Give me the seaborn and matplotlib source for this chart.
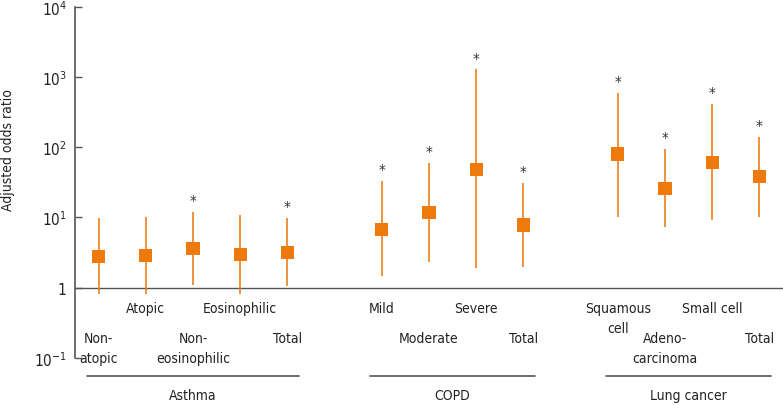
import numpy as np
import pandas as pd
import matplotlib
matplotlib.use('Agg')
import matplotlib.pyplot as plt
import seaborn as sns

# Data
groups = ['Asthma'] * 5 + ['COPD'] * 4 + ['Lung cancer'] * 4
labels = ['Non-\natopic', 'Atopic', 'Non-\neosinophilic', 'Eosinophilic', 'Total',
          'Mild', 'Moderate', 'Severe', 'Total',
          'Squamous\ncell', 'Adeno-\ncarcinoma', 'Small cell', 'Total']
slots = [0, 1, 2, 3, 4, 6, 7, 8, 9, 11, 12, 13, 14]
odds = [2.75, 2.85, 3.65, 3.0, 3.2, 6.8, 11.8, 48, 7.8, 80, 26, 60, 38]
lower = [0.8, 0.82, 1.1, 0.82, 1.07, 1.48, 2.33, 1.9, 2.0, 10, 7.3, 9.1, 10]
upper = [9.8, 10, 11.8, 10.7, 9.7, 33.5, 60, 1280, 31, 600, 95, 410, 140]
signif = [False, False, True, False, True, True, True, True, True, True, True, True, True]
label_row = [2, 1, 2, 1, 2, 1, 2, 1, 2, 1, 2, 1, 2]
group_names = ['Asthma', 'COPD', 'Lung cancer']

df = pd.DataFrame({'group': groups, 'label': labels, 'x': slots, 'odds': odds,
                   'lower': lower, 'upper': upper, 'sig': signif, 'row': label_row})

sns.set_style('white')
# condensed DejaVu is the closest to the narrow face of the original
plt.rcParams['font.family'] = ['DejaVu Sans']
plt.rcParams['font.stretch'] = 'condensed'
plt.rcParams['mathtext.fontset'] = 'custom'
plt.rcParams['mathtext.rm'] = 'DejaVu Sans:stretch=condensed'

orange = '#EF7A0C'
grey = '#555555'
text_col = '#222222'

fig = plt.figure(figsize=(7.83, 4.06), dpi=100)
ax = fig.add_axes([0.0958, 0.116, 0.9042, 0.865])

# confidence intervals
ax.vlines(df['x'], df['lower'], df['upper'], color=orange, lw=1.15, zorder=2)
sns.scatterplot(data=df, x='x', y='odds', marker='s', s=88, color=orange,
                edgecolor='none', ax=ax, zorder=3, legend=False)

# significance stars
for _, r in df[df['sig']].iterrows():
    ax.text(r['x'], r['upper'] * 1.1, '*', ha='center', va='bottom',
            fontsize=11, color='#333333')

ax.set_yscale('log')
ax.set_ylim(0.1, 1e4)
ax.set_xlim(-0.5, 14.5)
ax.axhline(1, color=grey, lw=1.0, zorder=1)

ax.set_yticks([0.1, 1, 10, 100, 1000, 10000])
ax.set_yticklabels(['$10^{-1}$', '1', '$10^{1}$', '$10^{2}$', '$10^{3}$', '$10^{4}$'])
ax.minorticks_off()
ax.tick_params(axis='y', direction='in', length=5, width=1, color=grey,
               labelsize=11, labelcolor=text_col, pad=6, left=True)
ax.set_xticks([])
ax.set_xlabel('')
ax.set_ylabel('Adjusted odds ratio', fontsize=10, color=text_col, va='center')
ax.yaxis.set_label_coords(-0.094, 0.596)

for s in ['top', 'right', 'bottom']:
    ax.spines[s].set_visible(False)
ax.spines['left'].set_color(grey)
ax.spines['left'].set_linewidth(1.2)

# category labels under the reference line
trans = ax.get_xaxis_transform()
for _, r in df.iterrows():
    ytop = 0.162 if r['row'] == 1 else 0.078
    ax.text(r['x'], ytop, r['label'], transform=trans, ha='center', va='top',
            fontsize=10, color=text_col, linespacing=1.55, clip_on=False)

# group brackets
for g in group_names:
    xs = df.loc[df['group'] == g, 'x']
    x0, x1 = xs.min() - 0.25, xs.max() + 0.25
    ax.plot([x0, x1], [-0.051, -0.051], transform=trans, color=grey, lw=1.2,
            clip_on=False)
    ax.text((x0 + x1) / 2, -0.107, g, transform=trans, ha='center', va='center',
            fontsize=10, color=text_col, clip_on=False)

fig.savefig('out.png', dpi=100)
